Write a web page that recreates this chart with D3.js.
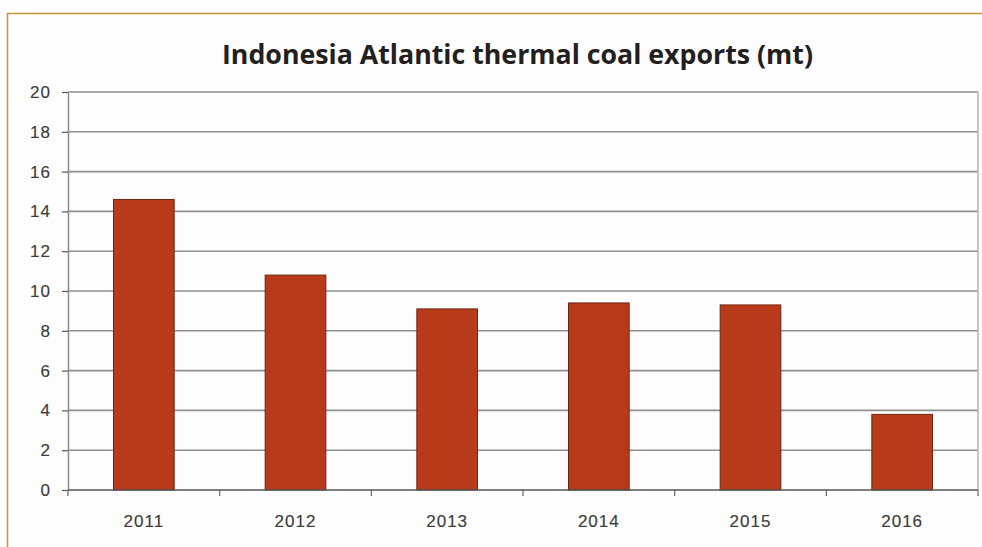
<!DOCTYPE html>
<html>
<head>
<meta charset="utf-8">
<script src="https://cdn.jsdelivr.net/npm/d3@7"></script>
<style>
  html, body { margin: 0; padding: 0; background: #fff; }
  svg { display: block; }
</style>
</head>
<body>
<svg id="chart" width="982" height="547"></svg>
<script>
// Indonesia Atlantic thermal coal exports, million tonnes
const years = ["2011", "2012", "2013", "2014", "2015", "2016"];
const exportsMt = [14.6, 10.8, 9.1, 9.4, 9.3, 3.8];
const yTicks = [0, 2, 4, 6, 8, 10, 12, 14, 16, 18, 20];
const titleText = "Indonesia Atlantic thermal coal exports (mt)";

const svg = d3.select("#chart");
const W = 982, H = 547;
const plot = { left: 68, right: 978, top: 92, bottom: 490 };

svg.append("rect").attr("width", W).attr("height", H).attr("fill", "#fdfdfd");

// frame lines along top and left
svg.append("path")
  .attr("d", `M7.5,${H} L7.5,13.5 L${W},13.5`)
  .attr("fill", "none").attr("stroke", "#c0963f").attr("stroke-width", 1.5);

svg.append("text")
  .attr("x", 517.5).attr("y", 64)
  .attr("text-anchor", "middle")
  .attr("font-family", "'Open Sans', Lato, sans-serif")
  .attr("font-weight", "bold").attr("font-size", 26)
  .attr("textLength", 591).attr("lengthAdjust", "spacingAndGlyphs")
  .attr("fill", "#231f20")
  .text(titleText);

const x = d3.scaleBand().domain(years).range([plot.left, plot.right])
  .paddingInner(0.6).paddingOuter(0.3);
const y = d3.scaleLinear().domain([0, 20]).range([plot.bottom, plot.top]);

// horizontal gridlines
svg.append("g").selectAll("line").data(yTicks.filter(t => t > 0)).join("line")
  .attr("x1", plot.left).attr("x2", plot.right)
  .attr("y1", d => y(d)).attr("y2", d => y(d))
  .attr("stroke", "#8f8f8f").attr("stroke-width", 1.6);

// right border of plot area
svg.append("line")
  .attr("x1", plot.right).attr("x2", plot.right)
  .attr("y1", plot.top).attr("y2", plot.bottom)
  .attr("stroke", "#b5b5b5").attr("stroke-width", 1.5);

// bars
svg.append("g").selectAll("rect").data(years).join("rect")
  .attr("x", d => x(d))
  .attr("width", x.bandwidth())
  .attr("y", (d, i) => y(exportsMt[i]))
  .attr("height", (d, i) => y(0) - y(exportsMt[i]))
  .attr("fill", "#b83a1b")
  .attr("stroke", "#6e2613").attr("stroke-width", 1);

const labelFont = "'Liberation Sans', Arial, sans-serif";

function styleLabels(sel) {
  sel.attr("font-family", labelFont)
    .attr("font-size", 17).attr("letter-spacing", 1)
    .attr("fill", "#3c3c3c")
    .attr("stroke", "#3c3c3c").attr("stroke-width", 0.15);
}

// y axis
const yAxis = svg.append("g")
  .attr("transform", `translate(${plot.left},0)`)
  .call(d3.axisLeft(y).tickValues(yTicks).tickSize(6).tickSizeOuter(0).tickPadding(11));
yAxis.select(".domain").attr("stroke", "#8a8a8a").attr("stroke-width", 1.5);
yAxis.selectAll(".tick line").attr("stroke", "#555").attr("stroke-width", 1.2);
yAxis.selectAll(".tick text").call(styleLabels);

// x axis with tick marks between categories
const xAxisG = svg.append("g").attr("transform", `translate(0,${plot.bottom})`);
xAxisG.append("line")
  .attr("x1", plot.left).attr("x2", plot.right)
  .attr("stroke", "#555").attr("stroke-width", 1.6);
const boundaries = d3.range(years.length + 1).map(i => plot.left + i * (plot.right - plot.left) / years.length);
xAxisG.selectAll("line.tk").data(boundaries).join("line")
  .attr("class", "tk")
  .attr("x1", d => d).attr("x2", d => d)
  .attr("y1", 0).attr("y2", 6)
  .attr("stroke", "#666").attr("stroke-width", 1.2);
xAxisG.selectAll("text").data(years).join("text")
  .attr("x", d => x(d) + x.bandwidth() / 2)
  .attr("y", 37)
  .attr("text-anchor", "middle")
  .call(styleLabels)
  .text(d => d);
</script>
</body>
</html>
